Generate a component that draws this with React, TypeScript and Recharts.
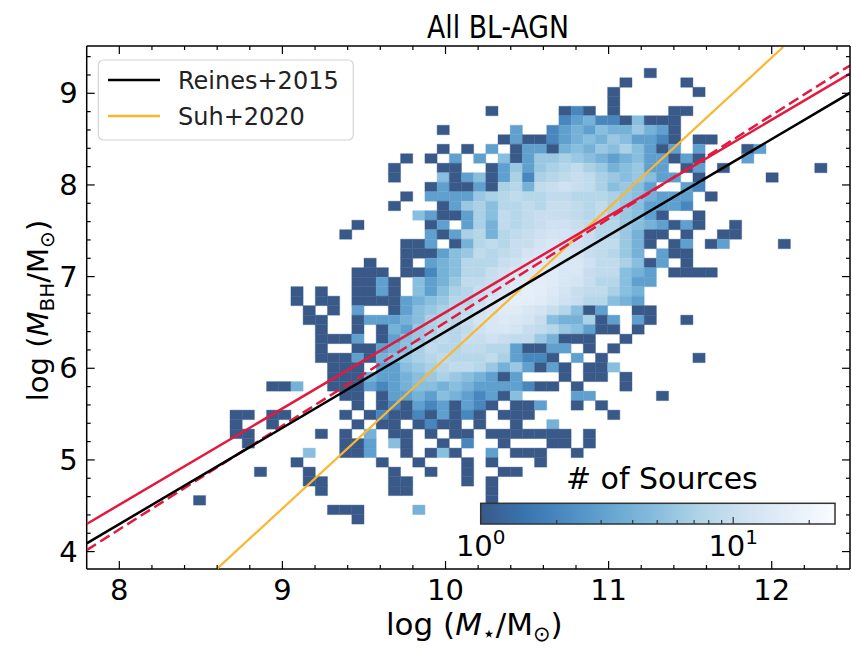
import React from "react";
import { ComposedChart, XAxis, YAxis, ReferenceArea, Scatter } from "recharts";

// ---------- data ----------
const X_DOMAIN: [number, number] = [7.8, 12.48];
const Y_DOMAIN: [number, number] = [3.81, 9.516];

const X_TICKS = [8, 8.2, 8.4, 8.6, 8.8, 9, 9.2, 9.4, 9.6, 9.8, 10, 10.2, 10.4, 10.6, 10.8, 11, 11.2, 11.4, 11.6, 11.8, 12, 12.2, 12.4];
const Y_TICKS = [4, 4.2, 4.4, 4.6, 4.8, 5, 5.2, 5.4, 5.6, 5.8, 6, 6.2, 6.4, 6.6, 6.8, 7, 7.2, 7.4, 7.6, 7.8, 8, 8.2, 8.4, 8.6, 8.8, 9, 9.2, 9.4];

// 2D histogram bins: column 0 left edge, column width, row 0 top edge, row height
const BIN_X0 = 8.4547;
const BIN_DX = 0.07469;
const BIN_Y0 = 9.273;
const BIN_DY = 0.1036;

// each row: [first column, counts in base 36 ('.' = empty)]
const HIST_ROWS: [number, string][] = [
  [37, "1"],
  [35, "1....1"],
  [34, "1......1"],
  [34, "1"],
  [24, "1.....121.1....11"],
  [30, "2342215111"],
  [20, "1.....3..23435446431"],
  [25, "131123454653321.11"],
  [20, "1.1.3.13314546575313.3...13"],
  [17, "1.1.3.3.51366765434533131...3"],
  [16, "1...11..136367897645633.13.1.......1"],
  [16, "1...51351372789a97656533.1.....1"],
  [19, "1311317849aba975653..32"],
  [17, "1.3333678988998887654333.1"],
  [16, "1...136758898aa9897653332"],
  [18, "5311375989aaa98976531..1"],
  [13, "1.....13.374989abba9886543131..1"],
  [12, "1......31378489abccba886411.1..11"],
  [17, "113.14898aacdcba99641.13.13....1"],
  [17, "111356989acdddca9864.311"],
  [14, "1..1.345888abdeeddb997513.1"],
  [13, "111.1124588abdeffdda99543.1111"],
  [13, "1131.534699acefgfdca88533"],
  [8, "1.1..1131.53578abdfhgeca99754"],
  [8, "1.11.1111345688adfhgfdba88543"],
  [9, "1.1.3..1356799bdffdca8513..11"],
  [9, "11..133345788acdedca544713.31..1"],
  [10, "1..1.14367989bddca9865311.1"],
  [10, "1113.1356898aaba9964111..1"],
  [10, "1..113457988998831133.1.1"],
  [10, "11131456789888973221.3.1.......1"],
  [11, "111.3356789986463131.115"],
  [11, "1114334567654313...1.11.1"],
  [6, "114..1113234554543333211.1...1"],
  [12, "11.133435432315....33.....1"],
  [13, "1.1213231321.113..1.1"],
  [3, "11.11....1.1211213121.111......1"],
  [3, "1..1......1.11.1211.1..1..4"],
  [3, "11.....1.1.4.11.1.11.1111111.1"],
  [4, "1.......113.51..1.2..1...11.1"],
  [9, "5..113..1.151..3.111..1"],
  [8, "1......1..1...1.1...1"],
  [5, "1...1......1..1..1..11"],
  [9, "11.....11....1.1"],
  [10, "1.....11......1"],
  [0, "1.......................1"],
  [11, "111....4"],
  [13, "1"],
];

const COUNT_MIN = 1;
const COUNT_MAX = 25.3;
const CB_TICKS = [1, 2, 3, 4, 5, 6, 7, 8, 9, 10, 20];
const CB_LABELS = [1, 10];

const REINES = [{ x: 7.8, y: 4.09 }, { x: 12.48, y: 9.004 }];
const SUH = [{ x: 8.6, y: 3.814 }, { x: 12.07, y: 9.505 }];
const FIT_SOLID = [{ x: 7.8, y: 4.301 }, { x: 12.48, y: 9.215 }];
const FIT_DASHED = [{ x: 7.8, y: 4.016 }, { x: 12.48, y: 9.304 }];

const LEGEND_ITEMS = [
  { name: "Reines+2015", color: "#000000" },
  { name: "Suh+2020", color: "#fbb62f" },
];

// ---------- styles ----------
const FONT = "DejaVu Sans";
const RED = "#e3193f";
const ORANGE = "#fbb62f";
const BLUES = [
  [247, 251, 255], [222, 235, 247], [198, 219, 239], [158, 202, 225], [107, 174, 214],
  [66, 146, 198], [33, 113, 181], [8, 81, 156], [8, 48, 107],
];
const ALPHA = 0.8;

function bluesR(t: number): string {
  const tt = Math.max(0, Math.min(1, t));
  const s = (1 - tt) * 8;
  const i = Math.min(7, Math.floor(s));
  const f = s - i;
  const a = BLUES[i];
  const b = BLUES[i + 1];
  const rgb = a.map((v, k) => v + (b[k] - v) * f);
  return `rgb(${rgb.map((v) => Math.round(ALPHA * v + (1 - ALPHA) * 255)).join(",")})`;
}
const normCount = (c: number) => Math.log(c / COUNT_MIN) / Math.log(COUNT_MAX / COUNT_MIN);

const cells: { x1: number; x2: number; y1: number; y2: number; fill: string }[] = [];
HIST_ROWS.forEach(([start, s], r) => {
  for (let i = 0; i < s.length; i++) {
    const ch = s[i];
    if (ch === ".") continue;
    const count = parseInt(ch, 36);
    if (!count) continue;
    const c = start + i;
    cells.push({
      x1: BIN_X0 + BIN_DX * c,
      x2: BIN_X0 + BIN_DX * (c + 1),
      y1: BIN_Y0 - BIN_DY * (r + 1),
      y2: BIN_Y0 - BIN_DY * r,
      fill: bluesR(normCount(count)),
    });
  }
});

const isMajor = (v: number) => Math.abs(v - Math.round(v)) < 1e-6;
const MAJOR_LEN = 8;
const MINOR_LEN = 4;
const TICK_FS = 29;

const BottomTick = (p: any) => {
  const { x, y, payload } = p;
  const major = isMajor(payload.value);
  return (
    <g>
      <line x1={x} x2={x} y1={y} y2={y - (major ? MAJOR_LEN : MINOR_LEN)} stroke="#000" strokeWidth={1.2} />
      {major && (
        <text x={x} y={y + 31} textAnchor="middle" fontSize={TICK_FS} fontFamily={FONT} fill="#000">
          {Math.round(payload.value)}
        </text>
      )}
    </g>
  );
};
const TopTick = (p: any) => {
  const { x, y, payload } = p;
  const major = isMajor(payload.value);
  return <line x1={x} x2={x} y1={y} y2={y + (major ? MAJOR_LEN : MINOR_LEN)} stroke="#000" strokeWidth={1.2} />;
};
const LeftTick = (p: any) => {
  const { x, y, payload } = p;
  const major = isMajor(payload.value);
  return (
    <g>
      <line x1={x} x2={x + (major ? MAJOR_LEN : MINOR_LEN)} y1={y} y2={y} stroke="#000" strokeWidth={1.2} />
      {major && (
        <text x={x - 9} y={y + 10} textAnchor="end" fontSize={TICK_FS} fontFamily={FONT} fill="#000">
          {Math.round(payload.value)}
        </text>
      )}
    </g>
  );
};
const RightTick = (p: any) => {
  const { x, y, payload } = p;
  const major = isMajor(payload.value);
  return <line x1={x} x2={x - (major ? MAJOR_LEN : MINOR_LEN)} y1={y} y2={y} stroke="#000" strokeWidth={1.2} />;
};

const W = 852;
const H = 648;
const PLOT = { left: 86.7, right: 850, top: 46, bottom: 569 };
const CB = { x0: 480.7, x1: 835, y0: 503.3, y1: 524 };

const Overlay = () => {
  const cbW = CB.x1 - CB.x0;
  const cbX = (v: number) => CB.x0 + (Math.log10(v / COUNT_MIN) / Math.log10(COUNT_MAX / COUNT_MIN)) * cbW;
  const stops = BLUES.map((_, k) => ({ off: k / 8, color: bluesR(k / 8) }));
  const cx = (PLOT.left + PLOT.right) / 2;
  const cy = (PLOT.top + PLOT.bottom) / 2;
  return (
    <svg width={W} height={H} style={{ position: "absolute", left: 0, top: 0, pointerEvents: "none" }} fontFamily={FONT}>
      <defs>
        <linearGradient id="cbgrad" x1="0" x2="1" y1="0" y2="0">
          {stops.map((s, k) => (
            <stop key={k} offset={s.off} stopColor={s.color} />
          ))}
        </linearGradient>
      </defs>
      {/* frame (top / right edges) */}
      <line x1={PLOT.left} x2={PLOT.right} y1={PLOT.top} y2={PLOT.top} stroke="#000" strokeWidth={1.5} />
      <line x1={PLOT.right} x2={PLOT.right} y1={PLOT.top} y2={PLOT.bottom} stroke="#000" strokeWidth={1.5} />
      {/* title */}
      <text x={498} y={38} textAnchor="middle" fontSize={32} textLength={142} lengthAdjust="spacingAndGlyphs" fill="#000">All BL-AGN</text>
      {/* x label */}
      <text x={cx + 6} y={635} textAnchor="middle" fontSize={31} fill="#000">
        log (<tspan fontStyle="italic">M</tspan>
        <tspan dy={6} fontSize={22}>⋆</tspan>
        <tspan dy={-6}>/M</tspan>
        <tspan dy={6} fontSize={21}>⊙</tspan>
        <tspan dy={-6}>)</tspan>
      </text>
      {/* y label */}
      <text transform={`translate(48, ${cy + 3}) rotate(-90)`} textAnchor="middle" fontSize={29} fill="#000">
        log (<tspan fontStyle="italic">M</tspan>
        <tspan dy={6} fontSize={20}>BH</tspan>
        <tspan dy={-6}>/M</tspan>
        <tspan dy={6} fontSize={20}>⊙</tspan>
        <tspan dy={-6}>)</tspan>
      </text>
      {/* legend */}
      <rect x={98.3} y={60} width={255} height={80} rx={5} fill="#fff" fillOpacity={0.8} stroke="#d4d4d4" strokeWidth={1.2} />
      {LEGEND_ITEMS.map((it, k) => (
        <g key={it.name}>
          <line x1={108} x2={160} y1={80 + 36 * k} y2={80 + 36 * k} stroke={it.color} strokeWidth={2.5} />
          <text x={178} y={88.5 + 36 * k} fontSize={24} fill="#222">{it.name}</text>
        </g>
      ))}
      {/* colorbar */}
      <text x={(CB.x0 + CB.x1) / 2 + 4} y={489} textAnchor="middle" fontSize={30} fill="#000"># of Sources</text>
      <rect x={CB.x0} y={CB.y0} width={cbW} height={CB.y1 - CB.y0} fill="url(#cbgrad)" stroke="#333" strokeWidth={1.5} />
      {CB_TICKS.map((v) => {
        const xx = cbX(v);
        const major = CB_LABELS.includes(v);
        return <line key={v} x1={xx} x2={xx} y1={CB.y1} y2={CB.y1 - (major ? 7 : 4)} stroke="#333" strokeWidth={1.2} />;
      })}
      {CB_LABELS.map((v) => (
        <text key={v} x={cbX(v)} y={556} textAnchor="middle" fontSize={29} fill="#000">
          10<tspan dy={-12} fontSize={20}>{Math.round(Math.log10(v))}</tspan>
        </text>
      ))}
    </svg>
  );
};

export default function App() {
  return (
    <div style={{ position: "absolute", left: 0, top: 0, width: W, height: H, background: "#fff" }}>
      <ComposedChart
        width={W}
        height={H}
        margin={{ top: PLOT.top - 1, right: W - PLOT.right - 1, bottom: H - PLOT.bottom - 40, left: PLOT.left - 60 }}
      >
        <XAxis
          dataKey="x"
          type="number"
          domain={X_DOMAIN}
          allowDataOverflow
          ticks={X_TICKS}
          interval={0}
          height={40}
          tickSize={0}
          tickMargin={0}
          tickLine={false}
          tick={<BottomTick />}
          axisLine={{ stroke: "#000", strokeWidth: 1.5 }}
        />
        <XAxis
          xAxisId="top"
          dataKey="x"
          orientation="top"
          type="number"
          domain={X_DOMAIN}
          allowDataOverflow
          ticks={X_TICKS}
          interval={0}
          height={1}
          tickSize={0}
          tickMargin={0}
          tickLine={false}
          tick={<TopTick />}
          axisLine={false}
        />
        <YAxis
          dataKey="y"
          type="number"
          domain={Y_DOMAIN}
          allowDataOverflow
          ticks={Y_TICKS}
          interval={0}
          width={60}
          tickSize={0}
          tickMargin={0}
          tickLine={false}
          tick={<LeftTick />}
          axisLine={{ stroke: "#000", strokeWidth: 1.5 }}
        />
        <YAxis
          yAxisId="right"
          dataKey="y"
          orientation="right"
          type="number"
          domain={Y_DOMAIN}
          allowDataOverflow
          ticks={Y_TICKS}
          interval={0}
          width={1}
          tickSize={0}
          tickMargin={0}
          tickLine={false}
          tick={<RightTick />}
          axisLine={false}
        />
        {cells.map((c, k) => (
          <ReferenceArea
            key={k}
            x1={c.x1}
            x2={c.x2}
            y1={c.y1}
            y2={c.y2}
            fill={c.fill}
            fillOpacity={1}
            stroke={c.fill}
            strokeWidth={0.4}
            ifOverflow="visible"
          />
        ))}
        <Scatter data={[]} xAxisId="top" yAxisId="right" isAnimationActive={false} legendType="none" />
        <Scatter data={SUH} name="Suh+2020" fill={ORANGE} line={{ stroke: ORANGE, strokeWidth: 2.2 }} lineType="joint" shape={() => <g />} isAnimationActive={false} />
        <Scatter data={FIT_DASHED} name="fit dashed" fill={RED} line={{ stroke: RED, strokeWidth: 2.5, strokeDasharray: "11 5" }} lineType="joint" shape={() => <g />} isAnimationActive={false} />
        <Scatter data={FIT_SOLID} name="fit" fill={RED} line={{ stroke: RED, strokeWidth: 2.5 }} lineType="joint" shape={() => <g />} isAnimationActive={false} />
        <Scatter data={REINES} name="Reines+2015" fill="#000" line={{ stroke: "#000", strokeWidth: 2.5 }} lineType="joint" shape={() => <g />} isAnimationActive={false} />
      </ComposedChart>
      <Overlay />
    </div>
  );
}
